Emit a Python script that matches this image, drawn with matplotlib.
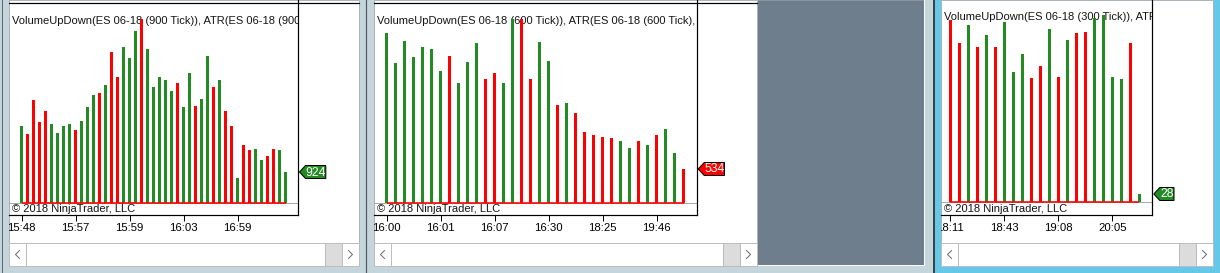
import matplotlib.pyplot as plt
from matplotlib.patches import Rectangle, Polygon
from matplotlib.transforms import Bbox

plt.rcParams['font.family'] = ['Liberation Sans', 'DejaVu Sans']

# 900 tick chart
vol_900 = [2310, 2070, 3100, 2430, 2760, 2370, 2100, 2310, 2370, 2190,
           2460, 2880, 3240, 3300, 3540, 4540, 3780, 4690, 4360, 5170,
           5530, 4630, 3480, 3780, 3690, 3360, 3600, 2880, 3900, 2910,
           3120, 4420, 3480, 3690, 2760, 2310, 740, 1740, 1590, 1620,
           1290, 1410, 1620, 1590, 924]
side_900 = list("GRRRRGGGGR" "GGGRGRRGGG" "RGGGGGRGGR" "GGRGRRGRRG" "GRRGG")
times_900 = ['15:48', '15:57', '15:59', '16:03', '16:59']

# 600 tick chart
vol_600 = [2690, 2210, 2560, 2310, 2470, 2440, 2090, 2330, 1900, 2230,
           2530, 1960, 2060, 1900, 2910, 2905, 1960, 2550, 2250, 1550,
           1580, 1420, 1120, 1070, 1040, 1030, 980, 870, 980, 915,
           1070, 1170, 790, 534]
side_600 = list("GGGGGGGRGG" "GRRGGRRGGR" "GRRRRRGGRG" "RGGR")
times_600 = ['16:00', '16:01', '16:07', '16:30', '18:25', '19:46']

# 300 tick chart
vol_300 = [614, 537, 598, 523, 564, 523, 608, 439, 500, 419,
           459, 584, 422, 547, 571, 574, 621, 631, 422, 416,
           537, 28]
side_300 = list("RRGRGRGGGR" "RGRGRRGGGG" "RG")
times_300 = ['18:11', '18:43', '19:08', '20:05']

W, H = 1220, 273
UP, DOWN = '#228b22', '#ff0000'
BG = '#c4d5dc'
PX = 0.72  # one pixel in points

fig = plt.figure(figsize=(W / 100, H / 100), dpi=100, facecolor=BG)
ui = fig.add_axes([0, 0, 1, 1])
ui.set_xlim(0, W)
ui.set_ylim(H, 0)
ui.axis('off')


def px_box(x0, y0, x1, y1):
    return Bbox([[x0, H - y1], [x1, H - y0]])


def rect(x0, y0, x1, y1, fc, ec='none', lw=0.0, z=1):
    ui.add_patch(Rectangle((x0, y0), x1 - x0, y1 - y0, facecolor=fc,
                           edgecolor=ec, linewidth=lw, zorder=z))


# window chrome
ui.plot([1.5, 1.5], [0, H], color='#5d6a74', lw=PX)
ui.plot([366, 366], [0, H], color='#4f5a62', lw=1.2 * PX)
rect(757, 0, 923.5, 264.5, '#6f7e8c', '#8a949c', PX)
ui.plot([924, 924], [0, 265], color='white', lw=PX, zorder=2)
ui.plot([757, 924], [265, 265], color='white', lw=PX, zorder=2)
ui.plot([934, 934], [0, H], color='#3a4148', lw=2 * PX)
rect(935, 0, W, H, '#66c8e8')


def panel(vol, side, times, every, name, left, right, vline, x0, step,
          base, top, title_y, top_line=True):
    rect(left, 0, right, 266, 'white', '#a9b5bc', PX)
    if top_line:
        ui.plot([left, right], [3, 3], color='black', lw=1.2 * PX, zorder=2)
    # title runs under the bars and is cut at the price axis line
    t = ui.text(left + 3, title_y,
                f'VolumeUpDown(ES 06-18 ({name} Tick)), ATR(ES 06-18 ({name} Tick), 14)',
                fontsize=8, va='center', color='#141414', zorder=2)
    t.set_clip_box(px_box(left, 0, vline, 215))
    t.set_clip_on(True)
    ui.text(left + 3, 209.5, '\u00a9 2018 NinjaTrader, LLC', fontsize=8,
            va='center', color='#141414', zorder=2)

    # scrollbar
    sb = dict(ec='#bdbdbd', lw=PX, z=2)
    rect(left, 243, right, 266, 'white', **sb)
    rect(left, 243, left + 16.5, 266, 'white', **sb)
    rect(right - 17, 243, right, 266, 'white', **sb)
    rect(right - 34, 243, right - 17, 266, '#dcdcdc', **sb)
    ui.plot([left + 10.5, left + 6.5, left + 10.5], [250.5, 254.5, 258.5],
            color='#6e6e6e', lw=PX, zorder=3)
    ui.plot([right - 10.5, right - 6.5, right - 10.5], [250.5, 254.5, 258.5],
            color='#6e6e6e', lw=PX, zorder=3)

    # bars
    ax = fig.add_axes([left / W, 1 - 215 / H, (vline - left) / W, 215 / H])
    ax.patch.set_visible(False)
    n = len(vol)
    ymax = max(vol)
    span = base - top
    ax.set_xlim((left - x0) / step, (vline - x0) / step)
    ax.set_ylim(-(215 - base) / span * ymax, base / span * ymax)
    colors = [UP if s == 'G' else DOWN for s in side]
    ax.bar(range(n), vol, width=3 / step, color=colors, linewidth=0, zorder=3)
    ax.axhline(0, color='#a8a8a8', lw=PX, zorder=2)
    ax.hlines(0, 0, n - 1, color=DOWN, lw=1.6 * PX, zorder=4)

    for s in ['left', 'top']:
        ax.spines[s].set_visible(False)
    for s in ['right', 'bottom']:
        ax.spines[s].set_linewidth(1.2 * PX)
    ax.set_yticks([])
    ax.set_xticks([i * every for i in range(len(times))], times)
    ax.tick_params(axis='x', length=6 * PX, width=PX, pad=1.6, labelsize=8.2,
                   direction='out', colors='black')
    for lbl in ax.get_xticklabels():
        lbl.set_clip_box(px_box(left, 215, right, 243))
        lbl.set_clip_on(True)

    # last value marker
    y = H - ax.transData.transform((n - 1, vol[-1]))[1]
    label = str(vol[-1])
    tip = vline + 1.5
    edge = tip + 6 + 6.1 * len(label) + 2
    fill = UP if side[-1] == 'G' else DOWN
    ui.add_patch(Polygon([(tip, y), (tip + 6, y - 6.5), (edge, y - 6.5),
                          (edge, y + 6.5), (tip + 6, y + 6.5)], closed=True,
                         facecolor=fill, edgecolor='black', lw=PX, zorder=5))
    ui.text((tip + 6 + edge) / 2, y + 0.5, label, color='white', fontsize=8.8,
            ha='center', va='center', zorder=6)


panel(vol_900, side_900, times_900, 9, 900, 9, 359, 298, 21.7, 6.0,
      202.7, 19, 21.5)
panel(vol_600, side_600, times_600, 6, 600, 374, 757, 696.7, 386.5, 9.0,
      202.7, 19, 21.5)
panel(vol_300, side_300, times_300, 6, 300, 941, 1213, 1152.3, 950.3, 9.0,
      202.3, 15, 16.5, top_line=False)

fig.savefig('out.png', dpi=100, facecolor=BG)
